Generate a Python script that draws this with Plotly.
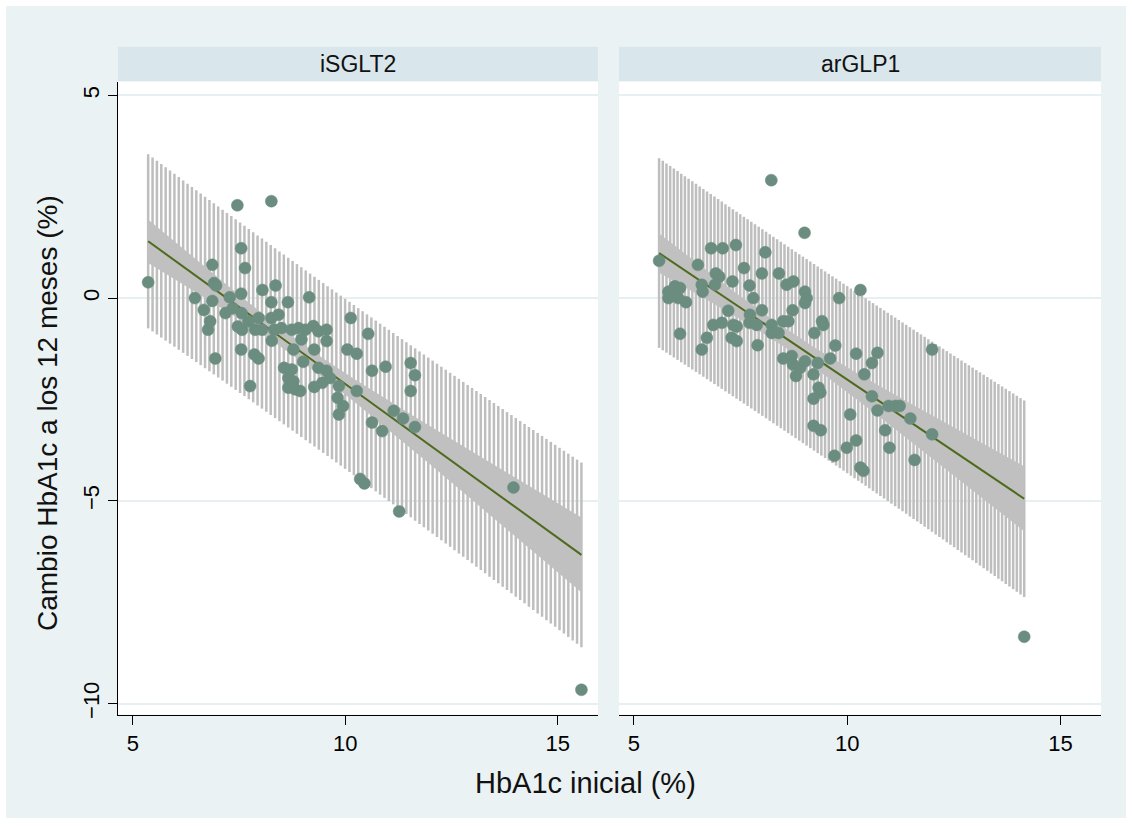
import numpy as np
import plotly.graph_objects as go

# ---- data: baseline HbA1c (%) and 12-month change (%) per patient ----
sglt2_x = [5.36, 7.46, 8.26, 7.55, 7.64, 6.87, 6.91, 6.96, 6.46, 7.55, 8.05, 8.36, 8.26, 8.65,
           6.67, 6.87, 7.18, 7.35, 7.56, 6.82, 6.77, 7.47, 7.57, 7.72, 7.96, 7.88, 8.04, 8.26,
           8.43, 8.33, 8.50, 8.74, 7.55, 6.94, 7.86, 7.96, 8.27, 8.78, 8.56, 8.74, 8.66, 8.78,
           7.76, 8.66, 8.82, 7.28, 9.15, 8.90, 9.06, 9.25, 9.37, 9.56, 8.97, 9.56, 9.27, 10.13,
           10.54, 10.05, 10.27, 9.01, 9.37, 9.56, 9.64, 10.63, 10.95, 11.54, 11.64, 11.54, 8.94,
           9.27, 9.46, 9.85, 9.82, 9.95, 9.85, 10.27, 10.63, 10.87, 11.14, 11.36, 11.64, 10.35,
           10.45, 11.27, 13.96, 15.56]
sglt2_y = [0.39, 2.29, 2.39, 1.23, 0.74, 0.82, 0.37, 0.31, 0.00, 0.11, 0.20, 0.31, -0.10, -0.10,
           -0.29, -0.07, -0.37, -0.25, -0.37, -0.57, -0.78, -0.70, -0.78, -0.57, -0.49, -0.78,
           -0.78, -0.49, -0.41, -0.78, -0.74, -0.78, -1.27, -1.49, -1.39, -1.49, -1.05, -1.27,
           -1.72, -1.76, -1.97, -2.05, -2.17, -2.21, -2.25, 0.02, 0.02, -0.74, -0.78, -0.69,
           -0.82, -0.78, -1.02, -1.06, -1.27, -0.49, -0.88, -1.27, -1.37, -1.57, -1.72, -1.79,
           -1.97, -1.79, -1.69, -1.60, -1.90, -2.29, -2.29, -2.19, -2.09, -2.17, -2.46, -2.66,
           -2.87, -2.29, -3.07, -3.28, -2.78, -2.97, -3.18, -4.46, -4.57, -5.26, -4.67, -9.66]

glp1_x = [5.59, 8.22, 9.00, 6.81, 7.08, 7.39, 6.50, 8.08, 6.92, 7.00, 7.58, 8.00, 8.40, 7.31,
          7.71, 8.58, 8.74, 9.01, 9.05, 9.01, 9.81, 10.31, 5.81, 5.96, 6.08, 5.81, 6.04, 6.22,
          5.92, 6.59, 6.61, 6.90, 7.80, 7.21, 8.00, 7.72, 7.71, 7.88, 8.72, 6.86, 7.06, 7.33,
          7.41, 8.23, 8.23, 8.39, 8.50, 8.62, 9.41, 9.44, 9.23, 6.08, 6.71, 6.59, 7.29, 7.41,
          7.90, 9.72, 8.50, 8.70, 8.73, 8.90, 9.01, 9.31, 9.60, 10.21, 10.71, 10.58, 11.99,
          8.80, 9.21, 10.40, 9.33, 9.37, 10.58, 9.21, 10.71, 10.97, 11.13, 11.23, 10.07, 11.48,
          11.99, 9.21, 9.38, 10.89, 10.21, 9.99, 10.99, 9.70, 11.58, 10.31, 10.38, 14.15]
glp1_y = [0.92, 2.91, 1.61, 1.23, 1.23, 1.31, 0.82, 1.13, 0.61, 0.53, 0.74, 0.61, 0.61, 0.41,
          0.31, 0.33, 0.41, 0.16, 0.00, -0.12, 0.00, 0.20, 0.16, 0.29, 0.25, 0.00, 0.00, -0.10,
          0.08, 0.33, 0.16, 0.33, 0.00, -0.31, -0.30, -0.41, -0.61, -0.66, -0.30, -0.66, -0.61,
          -0.66, -0.70, -0.66, -0.86, -0.86, -0.57, -0.57, -0.57, -0.66, -0.86, -0.88, -0.98,
          -1.27, -0.98, -1.06, -1.16, -1.17, -1.49, -1.43, -1.64, -1.72, -1.56, -1.60, -1.49,
          -1.37, -1.35, -1.60, -1.27, -1.92, -1.88, -1.88, -2.21, -2.33, -2.42, -2.48, -2.77,
          -2.66, -2.66, -2.66, -2.87, -2.97, -3.36, -3.15, -3.26, -3.26, -3.51, -3.69, -3.69,
          -3.89, -3.99, -4.18, -4.26, -8.35]

panel_titles = ["iSGLT2", "arGLP1"]
x_ticks = [5, 10, 15]
y_ticks = [-10, -5, 0, 5]

# ---- styling ----
W, H = 1132, 828
FONT = "Liberation Sans, Arial, sans-serif"
OUTER_BG = "#EAF2F3"
STRIP_BG = "#D9E6EB"
GRID = "#E6EFF2"
MARKER = "#6A8D80"
FIT = "#4E6A1C"
CI_FILL = "#C0C0C0"
PI_SPIKE = "#BEBEBE"


def px_x(p):
    return p / W


def px_y(p):
    return 1 - p / H


def t_quantile(df, z=1.959964):
    # Cornish-Fisher expansion of the Student t 97.5% quantile
    return z + (z ** 3 + z) / (4 * df) + (5 * z ** 5 + 16 * z ** 3 + 3 * z) / (96 * df ** 2)


def linear_fit(xs, ys, n_grid=100):
    x = np.asarray(xs, float)
    y = np.asarray(ys, float)
    n = len(x)
    xb, yb = x.mean(), y.mean()
    sxx = ((x - xb) ** 2).sum()
    b = ((x - xb) * (y - yb)).sum() / sxx
    a = yb - b * xb
    s = np.sqrt(((y - (a + b * x)) ** 2).sum() / (n - 2))
    t = t_quantile(n - 2)
    g = np.linspace(x.min(), x.max(), n_grid)
    yhat = a + b * g
    se_m = s * np.sqrt(1 / n + (g - xb) ** 2 / sxx)
    se_f = s * np.sqrt(1 + 1 / n + (g - xb) ** 2 / sxx)
    return g, yhat, yhat - t * se_m, yhat + t * se_m, yhat - t * se_f, yhat + t * se_f


fig = go.Figure()

panels = [
    (sglt2_x, sglt2_y, "x", "y"),
    (glp1_x, glp1_y, "x2", "y2"),
]

for xs, ys, xa, ya in panels:
    g, yhat, clo, chi, plo, phi = linear_fit(xs, ys)

    # prediction interval as vertical spikes
    sx, sy = [], []
    for gi, lo, hi in zip(g, plo, phi):
        sx += [gi, gi, None]
        sy += [lo, hi, None]
    fig.add_trace(go.Scatter(x=sx, y=sy, mode="lines", xaxis=xa, yaxis=ya,
                             line=dict(color=PI_SPIKE, width=2.5),
                             hoverinfo="skip", showlegend=False))

    # confidence band of the mean
    fig.add_trace(go.Scatter(x=np.concatenate([g, g[::-1]]),
                             y=np.concatenate([chi, clo[::-1]]),
                             mode="lines", fill="toself", fillcolor=CI_FILL,
                             line=dict(width=0, color=CI_FILL),
                             xaxis=xa, yaxis=ya, hoverinfo="skip", showlegend=False))

    # fitted line
    fig.add_trace(go.Scatter(x=g, y=yhat, mode="lines", xaxis=xa, yaxis=ya,
                             line=dict(color=FIT, width=2), showlegend=False))

    # observations
    fig.add_trace(go.Scatter(x=xs, y=ys, mode="markers", xaxis=xa, yaxis=ya,
                             marker=dict(color=MARKER, size=12,
                                         line=dict(color=MARKER, width=0.5)),
                             showlegend=False))

left_dom = [px_x(118), px_x(598)]
right_dom = [px_x(619), px_x(1101)]
y_dom = [px_y(718), px_y(82)]
x_range = [4.65, 15.95]
y_range = [-10.27, 5.34]

TICK_FONT = dict(family=FONT, size=22, color="#000")

xax = dict(range=x_range, tickvals=x_ticks, ticks="outside", ticklen=9, tickwidth=1,
           tickcolor="#000", showline=True, linecolor="#000", linewidth=1.2,
           showgrid=False, zeroline=False, tickfont=TICK_FONT)
yax = dict(range=y_range, tickvals=y_ticks, showgrid=True, gridcolor=GRID, gridwidth=2,
           zeroline=False, tickfont=TICK_FONT)

shapes = [
    dict(type="rect", xref="paper", yref="paper", x0=px_x(6), x1=px_x(1126),
         y0=px_y(822), y1=px_y(6), fillcolor=OUTER_BG, line=dict(width=0), layer="below"),
    dict(type="rect", xref="paper", yref="paper", x0=left_dom[0], x1=left_dom[1],
         y0=px_y(82), y1=px_y(47), fillcolor=STRIP_BG, line=dict(width=0), layer="below"),
    dict(type="rect", xref="paper", yref="paper", x0=right_dom[0], x1=right_dom[1],
         y0=px_y(82), y1=px_y(47), fillcolor=STRIP_BG, line=dict(width=0), layer="below"),
    dict(type="rect", xref="paper", yref="paper", x0=left_dom[0], x1=left_dom[1],
         y0=y_dom[0], y1=y_dom[1], fillcolor="white", line=dict(width=0), layer="below"),
    dict(type="rect", xref="paper", yref="paper", x0=right_dom[0], x1=right_dom[1],
         y0=y_dom[0], y1=y_dom[1], fillcolor="white", line=dict(width=0), layer="below"),
]

annotations = [
    dict(text=panel_titles[0], x=sum(left_dom) / 2, y=px_y(64.5), xref="paper", yref="paper",
         showarrow=False, font=dict(family=FONT, size=23, color="#111"), xanchor="center",
         yanchor="middle"),
    dict(text=panel_titles[1], x=sum(right_dom) / 2, y=px_y(64.5), xref="paper", yref="paper",
         showarrow=False, font=dict(family=FONT, size=23, color="#111"), xanchor="center",
         yanchor="middle"),
    dict(text="HbA1c inicial (%)", x=px_x(585), y=px_y(787), xref="paper", yref="paper",
         showarrow=False, font=dict(family=FONT, size=29, color="#111"), xanchor="center",
         yanchor="middle"),
    dict(text="Cambio HbA1c a los 12 meses (%)", x=px_x(48), y=px_y(415), xref="paper",
         yref="paper", showarrow=False, textangle=-90,
         font=dict(family=FONT, size=28, color="#111"), xanchor="center", yanchor="middle"),
]

fig.update_layout(
    width=W, height=H,
    margin=dict(l=0, r=0, t=0, b=0),
    paper_bgcolor="white",
    plot_bgcolor="white",
    showlegend=False,
    shapes=shapes,
    annotations=annotations,
    xaxis=dict(domain=left_dom, anchor="y", **xax),
    xaxis2=dict(domain=right_dom, anchor="y2", **xax),
    yaxis=dict(domain=y_dom, anchor="x", ticks="outside", ticklen=9, tickwidth=1,
               tickcolor="#000", tickangle=-90, showline=True, linecolor="#000",
               linewidth=1.2, **yax),
    yaxis2=dict(domain=y_dom, anchor="x2", showticklabels=False, ticks="",
                showline=False, **yax),
)

fig.write_html("out.html")
